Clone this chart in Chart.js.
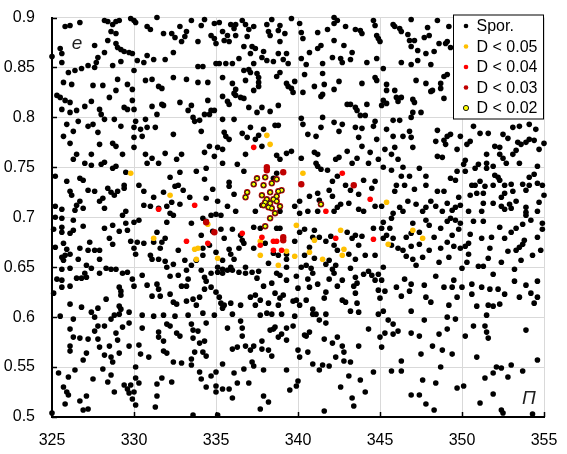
<!DOCTYPE html>
<html>
<head>
<meta charset="utf-8">
<script src="https://cdn.jsdelivr.net/npm/chart.js@4.4.1/dist/chart.umd.min.js"></script>
<style>
  body { margin: 0; background: #fff; }
  canvas { display: block; }
</style>
</head>
<body>
<canvas id="myChart" width="567" height="454"></canvas>
<script>
// tick positions
const xTickValues = [325, 330, 335, 340, 345, 350, 355];
const yTickValues = [0.5, 0.55, 0.6, 0.65, 0.7, 0.75, 0.8, 0.85, 0.9];

// legend labels
const seriesNames = ['Spor.', 'D < 0.05', 'D < 0.04', 'D < 0.03', 'D < 0.02'];

// sporadic meteors, [П, e]
const sporTopLeft = [
  [325.0,0.861],[325.5,0.869],[325.6,0.864],[325.6,0.855],[325.8,0.891],[326.1,0.892],[326.7,0.895],[326.0,0.845],
  [326.4,0.847],[326.8,0.849],[327.2,0.852],[327.6,0.85],[327.7,0.855],[325.7,0.835],[326.2,0.833],[325.3,0.822],
  [325.5,0.82],[325.8,0.817],[326.1,0.815],[325.6,0.808],[326.1,0.805],[326.5,0.807],[326.6,0.796],[325.9,0.793],
  [326.3,0.786],[325.7,0.781],[327.0,0.811],[327.4,0.816],[327.5,0.832],[328.1,0.832],[327.6,0.872],[327.8,0.86],
  [328.2,0.865],[328.4,0.877],[328.6,0.886],[328.2,0.897],[328.4,0.896],[328.7,0.893],[328.9,0.884],[328.9,0.896],
  [329.1,0.897],[328.9,0.874],[329.0,0.87],[329.2,0.868],[329.4,0.866],[329.7,0.865],[329.9,0.864],[328.7,0.852],
  [329.2,0.856],[327.9,0.808],[328.0,0.803],[328.5,0.82],[328.9,0.827],[329.0,0.838],[329.6,0.833],[329.9,0.828],
  [327.2,0.791],[327.5,0.793],[327.8,0.785],[328.2,0.798],[328.8,0.798],[329.2,0.791],[329.4,0.81],[329.6,0.808],
  [329.9,0.817],[330.0,0.808],[330.1,0.796],[330.0,0.79],[330.0,0.78],[330.4,0.788],[330.7,0.798],[330.8,0.79],
  [330.5,0.781],[331.3,0.79],[331.4,0.803],[331.8,0.812],[331.1,0.811],[329.8,0.899],[330.0,0.897],[330.1,0.895],
  [331.4,0.9],[330.8,0.891],[331.0,0.888],[331.8,0.884],[332.3,0.884],[332.5,0.88],[332.4,0.865],[330.2,0.857],
  [330.6,0.855],[330.8,0.862],[331.2,0.858],[331.9,0.858],[330.0,0.847],[330.7,0.837],[331.1,0.838],[331.5,0.831],
  [331.7,0.829],[332.4,0.84],[333.2,0.838],[331.7,0.813],[332.4,0.783]
];

const sporTopMid = [
  [332.8,0.891],[333.2,0.886],[333.1,0.881],[332.9,0.876],[333.5,0.897],[334.1,0.892],[334.3,0.898],[333.9,0.876],
  [334.7,0.882],[334.9,0.879],[335.0,0.874],[334.9,0.894],[335.2,0.895],[335.4,0.886],[335.7,0.882],[335.8,0.876],
  [335.5,0.877],[335.9,0.893],[336.2,0.893],[336.1,0.889],[336.2,0.882],[336.6,0.897],[336.8,0.893],[337.0,0.888],
  [336.9,0.881],[336.7,0.871],[337.2,0.871],[337.1,0.864],[337.4,0.869],[337.3,0.891],[338.1,0.893],[338.4,0.898],
  [338.2,0.886],[338.3,0.882],[338.9,0.892],[338.9,0.876],[338.8,0.887],[339.2,0.884],[339.6,0.899],[337.9,0.866],
  [337.8,0.86],[338.1,0.857],[338.5,0.856],[338.8,0.864],[339.3,0.864],[339.1,0.858],[339.4,0.854],[337.3,0.854],
  [336.4,0.859],[336.0,0.854],[335.6,0.854],[335.2,0.854],[335.0,0.854],[334.2,0.851],[333.9,0.851],[340.1,0.894],
  [340.2,0.885],[340.3,0.879],[341.2,0.885],[341.8,0.888],[342.2,0.894],[342.4,0.897],[342.2,0.9],[342.9,0.891],
  [343.5,0.888],[343.8,0.887],[343.9,0.884],[342.2,0.877],[342.8,0.872],[341.4,0.872],[341.2,0.869],[340.7,0.865],
  [340.2,0.859],[340.5,0.853],[341.5,0.854],[342.1,0.86],[342.6,0.859],[342.7,0.855],[343.2,0.858],[343.3,0.865],
  [344.2,0.855],
  [333.9,0.835],[334.5,0.835],[335.4,0.84],[336.0,0.834],[336.7,0.847],[337.0,0.848],[337.1,0.845],[336.8,0.837],
  [337.5,0.844],[337.6,0.84],[337.6,0.835],[337.6,0.831],[337.3,0.827],[336.2,0.828],[336.1,0.824],[336.2,0.822],
  [336.5,0.82],[336.7,0.819],[335.4,0.821],[335.7,0.816],[335.8,0.813],[337.0,0.81],[337.5,0.805],[337.8,0.81],
  [338.3,0.806],[338.8,0.812],[338.7,0.841],[338.9,0.845],[339.3,0.834],[339.4,0.831],[339.6,0.829],[339.8,0.836],
  [339.7,0.825],[340.4,0.843],[340.3,0.825],[341.0,0.831],[341.5,0.844],[341.6,0.833],[341.5,0.823],[341.4,0.821],
  [342.2,0.828],[342.5,0.836],[343.9,0.834],[343.0,0.813],[343.2,0.813],[343.5,0.81],[343.6,0.807],[343.8,0.802],
  [344.1,0.802],[344.2,0.813],[332.8,0.815],[333.3,0.807],[333.5,0.812],[333.6,0.8],[334.3,0.803],[334.6,0.803],
  [334.7,0.807],[334.9,0.807],[334.5,0.817],[333.7,0.796],[334.0,0.797],[335.4,0.798],[336.1,0.798],[337.1,0.79],
  [337.9,0.788],[338.6,0.792],[338.8,0.792],[340.2,0.799],[340.3,0.793],[341.5,0.8],[342.2,0.795],[341.4,0.79],
  [342.7,0.793],[343.5,0.79],[343.9,0.789]
];

const sporTopRight = [
  [344.6,0.897],[344.7,0.892],[344.8,0.882],[344.9,0.879],[345.0,0.876],[344.8,0.859],[345.2,0.849],[345.8,0.893],
  [345.9,0.891],[346.2,0.889],[346.3,0.886],[346.7,0.883],[346.9,0.898],[346.8,0.877],[347.1,0.877],[346.9,0.871],
  [347.3,0.867],[347.8,0.864],[348.3,0.866],[347.9,0.89],[348.0,0.882],[347.7,0.88],[348.5,0.897],[349.2,0.891],
  [348.6,0.874],[349.0,0.874],[349.1,0.876],[349.3,0.87],[346.9,0.853],[347.3,0.857],[348.1,0.853],[346.3,0.855],
  [344.7,0.84],[344.8,0.837],[345.4,0.827],[345.4,0.833],[345.9,0.827],[346.0,0.82],[346.3,0.82],[345.2,0.817],
  [345.4,0.814],[345.1,0.812],[346.1,0.816],[347.0,0.818],[347.1,0.815],[347.2,0.837],[347.8,0.834],[348.1,0.826],
  [348.2,0.827],[348.7,0.829],[348.7,0.834],[348.9,0.841],[349.1,0.843],[348.9,0.819],[347.0,0.805],[347.5,0.805],
  [346.9,0.8],[346.2,0.797],[345.8,0.797],[344.7,0.796],[344.6,0.791]
];

const sporMidLeft = [
  [326.1,0.774],[327.9,0.773],[328.7,0.774],[328.9,0.771],[330.0,0.77],[329.3,0.763],[327.4,0.763],[326.5,0.763],
  [326.3,0.758],[327.0,0.754],[327.4,0.752],[328.0,0.753],[328.2,0.755],[328.7,0.749],[328.9,0.751],[330.7,0.763],
  [330.8,0.754],[331.1,0.759],[331.5,0.754],[331.9,0.764],[332.6,0.758],[332.9,0.763],[334.3,0.765],[334.4,0.749],
  [333.8,0.746],[332.8,0.745],[332.2,0.74],[329.5,0.745],[330.3,0.732],[329.4,0.732],[329.4,0.729],[330.6,0.726],
  [331.2,0.72],[331.8,0.725],[332.5,0.731],[332.7,0.732],[333.0,0.727],[332.3,0.715],[332.8,0.713],[333.4,0.72],
  [334.3,0.738],[334.4,0.719],[325.2,0.741],[325.9,0.736],[326.1,0.726],[326.2,0.722],[326.7,0.739],[326.9,0.737],
  [327.2,0.727],[327.6,0.726],[327.9,0.716],[328.1,0.719],[328.4,0.729],[328.6,0.725],[328.8,0.722],[329.0,0.726],
  [326.7,0.716],[326.5,0.712],[326.4,0.707],[326.9,0.709],[328.2,0.709],[325.2,0.711],[325.6,0.708],[325.2,0.7],
  [325.6,0.699],[326.3,0.697],[329.5,0.706],[329.3,0.702],[330.3,0.697],[330.6,0.712],[331.0,0.711],[331.5,0.709],
  [332.0,0.711],[332.2,0.704],[332.4,0.702],[332.0,0.695],[333.5,0.694],[334.2,0.699],
  [325.1,0.688],[325.6,0.69],[325.6,0.685],[326.1,0.684],[326.3,0.687],[326.9,0.691],[325.7,0.674],[325.2,0.67],
  [325.9,0.668],[325.8,0.662],[325.6,0.66],[325.7,0.657],[326.1,0.663],[326.7,0.669],[326.6,0.658],[327.3,0.675],
  [327.2,0.667],[327.6,0.667],[327.9,0.667],[327.9,0.658],[327.1,0.652],[328.5,0.679],[328.7,0.692],[328.2,0.689],
  [328.7,0.673],[329.1,0.686],[329.5,0.694],[329.6,0.687],[329.8,0.676],[330.2,0.675],[330.0,0.669],[330.1,0.663],
  [330.6,0.674],[331.0,0.662],[331.1,0.658],[331.5,0.658],[331.6,0.669],[331.9,0.656],[331.4,0.685],[331.2,0.675],
  [331.7,0.675],[331.9,0.679],[332.7,0.667],[332.4,0.653],[332.0,0.65],[333.1,0.657],[333.2,0.647],[333.5,0.652],
  [333.8,0.657],[334.1,0.647],[334.2,0.662],[330.0,0.695],[328.6,0.648],[328.9,0.648],[329.3,0.644],[329.6,0.645],
  [328.3,0.649],[327.9,0.644],[327.4,0.649],[327.0,0.644],[326.1,0.649],[325.6,0.648],
  [325.3,0.638],[325.6,0.637],[325.1,0.624],[325.6,0.63],[326.1,0.631],[326.5,0.639],[326.8,0.639],[327.1,0.64],
  [329.1,0.63],[329.2,0.626],[329.2,0.622],[329.9,0.638],[330.0,0.631],[330.5,0.642],[330.8,0.632],[331.4,0.633],
  [331.5,0.628],[331.1,0.621],[331.6,0.621],[332.2,0.623],[332.4,0.615],[332.6,0.613],[332.2,0.641],[332.7,0.642],
  [332.9,0.631],[333.2,0.631],[333.3,0.638],[333.2,0.616],[333.6,0.618],[334.0,0.62],[334.3,0.628],[334.4,0.636],
  [333.8,0.612],[334.2,0.604],[328.3,0.618],[329.1,0.611],[329.2,0.608],[329.1,0.603],[328.8,0.602],[328.6,0.598],
  [327.8,0.609],[327.6,0.6],[327.4,0.605],[326.8,0.61],[326.1,0.613],[325.5,0.601],[326.3,0.598],[329.7,0.605],
  [330.5,0.602],[331.2,0.601],[331.8,0.602],[332.5,0.601],[333.3,0.602],
  [326.1,0.588],[326.3,0.58],[326.7,0.579],[327.8,0.578],[327.6,0.586],[327.8,0.591],[328.2,0.591],[328.9,0.584],
  [329.3,0.59],[329.7,0.594],[330.5,0.589],[331.5,0.585],[331.5,0.58],[332.0,0.593],[332.2,0.591],[332.6,0.584],
  [332.8,0.581],[333.5,0.593],[333.6,0.587],[333.9,0.586],[334.4,0.594],[334.3,0.576]
];

const sporCentre = [
  [334.1,0.786],[335.5,0.785],[335.6,0.781],[335.8,0.778],[336.6,0.784],[336.9,0.78],[337.4,0.778],[337.6,0.782],
  [337.8,0.771],[338.7,0.762],[338.9,0.758],[339.3,0.764],[339.6,0.766],[340.2,0.759],[340.6,0.783],[341.1,0.781],
  [342.5,0.786],[343.7,0.78],[343.9,0.771],[344.4,0.765],[344.8,0.778],[344.9,0.758],[344.3,0.754],[343.6,0.759],
  [343.3,0.754],[343.0,0.766],[342.5,0.76],[342.3,0.758],[341.0,0.765],[341.2,0.763],[341.1,0.754],[341.2,0.751],
  [341.4,0.748],[341.8,0.747],[334.6,0.771],[335.1,0.77],[335.4,0.768],[336.8,0.763],[336.3,0.753],[336.7,0.746],
  [335.4,0.754],[334.9,0.761],
  [335.8,0.735],[335.8,0.731],[334.8,0.728],[336.1,0.723],[338.5,0.739],[338.7,0.744],[340.1,0.716],[340.7,0.721],
  [341.2,0.724],[341.3,0.717],[341.9,0.727],[342.1,0.721],[342.1,0.736],[342.4,0.741],[342.9,0.732],[343.2,0.727],
  [343.7,0.723],[344.0,0.737],[344.7,0.736],[344.5,0.729],[344.7,0.711],[344.0,0.706],[343.7,0.708],[343.1,0.714],
  [342.6,0.713],[342.4,0.71],[342.2,0.706],[341.2,0.706],[340.6,0.706],[340.1,0.704],[339.8,0.711],[338.9,0.706],
  [337.8,0.712],[337.4,0.706],[336.2,0.706],[335.7,0.711],[335.1,0.716],[334.7,0.702],[335.0,0.703],[335.3,0.702],
  [334.4,0.696],[334.8,0.686],[334.1,0.682],[335.3,0.688],[335.5,0.679],[336.0,0.688],[336.5,0.682],[336.6,0.677],
  [336.7,0.674],[336.4,0.669],[335.8,0.668],[335.9,0.663],[336.1,0.658],[335.4,0.657],[335.0,0.665],[334.6,0.672],
  [334.2,0.669],[337.3,0.69],[337.7,0.689],[338.7,0.689],[338.9,0.689],[337.3,0.669],[338.0,0.674],[338.5,0.664],
  [338.8,0.662],[339.3,0.663],[339.3,0.658],[339.8,0.676],[340.1,0.685],[340.4,0.688],[341.0,0.687],[340.9,0.68],
  [341.3,0.68],[341.7,0.676],[342.0,0.681],[342.2,0.672],[342.4,0.667],[341.0,0.659],[340.4,0.662],[340.7,0.67],
  [343.0,0.685],[343.3,0.679],[343.5,0.682],[343.9,0.681],[343.7,0.672],[344.6,0.689],[345.2,0.695],[344.7,0.662],
  [344.1,0.662],[343.5,0.658],[343.1,0.663],[342.3,0.652],[341.9,0.657]
];

const sporMidRight = [
  [345.4,0.788],[345.8,0.781],[345.9,0.77],[345.3,0.768],[345.7,0.763],[346.1,0.758],[346.4,0.781],[346.8,0.786],
  [346.9,0.78],[347.0,0.77],[346.4,0.75],[347.4,0.749],[345.7,0.747],[345.2,0.75],[348.5,0.787],[348.4,0.776],
  [348.9,0.777],[349.1,0.781],[349.3,0.783],[349.9,0.781],[349.0,0.773],[349.7,0.768],[348.5,0.761],[348.8,0.76],
  [350.1,0.753],[350.2,0.757],[350.3,0.773],[350.5,0.776],[350.7,0.791],[351.1,0.784],[351.6,0.784],[352.0,0.771],
  [352.3,0.77],[352.5,0.783],[352.8,0.779],[353.1,0.79],[353.5,0.791],[354.1,0.793],[354.5,0.788],[353.4,0.775],
  [353.6,0.773],[353.9,0.775],[354.1,0.778],[354.4,0.777],[355.0,0.774],[354.7,0.768],[353.3,0.767],[353.1,0.763],
  [353.5,0.754],[352.3,0.763],[352.5,0.759],[352.7,0.754],[351.5,0.763],[351.0,0.753],[351.5,0.754],[351.5,0.749],
  [350.2,0.746],[349.7,0.746],[350.8,0.749],[351.9,0.751],[354.6,0.751],
  [346.3,0.741],[346.8,0.741],[347.8,0.741],[347.8,0.732],[347.1,0.728],[346.5,0.732],[346.0,0.732],[345.9,0.726],
  [348.5,0.726],[348.9,0.726],[349.3,0.739],[349.6,0.737],[350.6,0.732],[350.8,0.732],[350.5,0.722],[350.9,0.724],
  [351.3,0.724],[351.1,0.736],[351.4,0.731],[351.9,0.732],[352.0,0.742],[352.2,0.74],[352.3,0.737],[352.6,0.732],
  [352.6,0.724],[352.4,0.72],[353.0,0.733],[353.1,0.726],[353.7,0.733],[353.9,0.727],[354.1,0.732],[354.1,0.74],
  [354.4,0.743],[354.6,0.734],[354.9,0.732],[355.0,0.722],[354.7,0.715],[353.3,0.716],[352.9,0.713],[353.0,0.709],
  [353.9,0.71],[353.9,0.705],[354.6,0.706],[352.4,0.711],[352.6,0.708],[351.9,0.714],[351.3,0.714],[351.2,0.706],
  [350.4,0.706],[349.9,0.712],[349.8,0.72],[349.6,0.71],[349.4,0.707],[349.1,0.714],[348.8,0.706],[348.4,0.711],
  [348.1,0.716],[347.8,0.71],[347.6,0.706],[347.2,0.713],[346.7,0.716],[346.2,0.71],[346.4,0.706],[345.8,0.704],
  [345.1,0.711],[347.8,0.697],[348.0,0.692],[347.0,0.694],
  [345.7,0.699],[345.6,0.689],[345.4,0.682],[345.2,0.679],[345.1,0.689],[345.8,0.679],[345.7,0.672],[346.1,0.669],
  [346.4,0.667],[346.6,0.68],[346.9,0.684],[347.4,0.685],[347.4,0.673],[346.9,0.671],[346.6,0.661],[347.0,0.658],
  [347.2,0.652],[347.6,0.66],[348.0,0.667],[348.3,0.68],[348.7,0.689],[349.1,0.696],[349.3,0.699],[349.6,0.697],
  [349.8,0.688],[349.9,0.694],[349.4,0.682],[349.1,0.675],[349.2,0.66],[348.7,0.669],[348.6,0.655],[349.5,0.671],
  [349.9,0.669],[350.2,0.671],[350.4,0.674],[350.5,0.683],[350.4,0.663],[350.3,0.655],[350.0,0.649],[350.7,0.696],
  [351.2,0.679],[351.3,0.696],[351.6,0.659],[351.7,0.669],[351.8,0.68],[352.3,0.69],[352.6,0.679],[353.0,0.685],
  [353.3,0.689],[353.7,0.693],[353.9,0.702],[354.2,0.697],[354.9,0.694],[354.9,0.688],[354.6,0.68],[354.8,0.667],
  [354.3,0.662],[353.8,0.677],[353.7,0.673],[353.5,0.67],[353.3,0.667],[353.6,0.657],[352.8,0.666],[352.4,0.655],
  [351.3,0.651],[351.0,0.651],[351.9,0.643],[353.2,0.648],
  [345.1,0.637],[345.3,0.626],[346.0,0.63],[346.3,0.621],[346.5,0.638],[346.8,0.626],[346.9,0.633],[347.7,0.632],
  [347.8,0.62],[348.1,0.615],[348.4,0.641],[348.9,0.63],[349.4,0.63],[349.5,0.637],[349.2,0.612],[349.7,0.62],
  [350.0,0.63],[350.6,0.633],[350.6,0.623],[351.2,0.63],[351.7,0.628],[352.2,0.628],[352.6,0.623],[350.9,0.611],
  [351.6,0.612],[351.9,0.611],[352.3,0.613],[351.5,0.602],[353.5,0.62],[353.2,0.636],[353.9,0.632],[354.2,0.624],
  [354.6,0.636],[354.6,0.62],[354.4,0.614],[346.9,0.606],[347.7,0.597],
  [345.5,0.597],[345.8,0.593],[346.1,0.586],[345.3,0.584],[346.9,0.584],[347.4,0.581],[348.6,0.583],[349.1,0.6],
  [349.1,0.588],[349.6,0.598],[350.2,0.581],[350.7,0.591],[351.4,0.591],[351.5,0.585],[351.6,0.579],[353.9,0.587]
];

const sporLowLeft = [
  [327.2,0.578],[329.0,0.577],[326.1,0.571],[326.1,0.566],[327.1,0.564],[326.9,0.557],[327.9,0.57],[328.5,0.571],
  [328.2,0.562],[328.6,0.56],[328.7,0.555],[329.1,0.564],[329.7,0.571],[330.3,0.572],[330.4,0.563],[330.9,0.56],
  [331.8,0.576],[331.8,0.566],[332.0,0.564],[332.4,0.555],[332.9,0.554],[333.5,0.558],[333.6,0.579],[333.5,0.552],
  [325.4,0.544],[326.0,0.54],[326.4,0.547],[325.7,0.53],[325.9,0.525],[326.0,0.522],[325.8,0.513],[326.7,0.516],
  [327.1,0.521],[326.9,0.507],[327.2,0.508],[327.5,0.538],[328.1,0.548],[328.6,0.542],[328.4,0.535],[328.8,0.525],
  [329.4,0.532],[329.6,0.528],[329.7,0.524],[329.8,0.532],[330.0,0.525],[329.9,0.518],[330.1,0.512],[330.1,0.55],
  [330.1,0.539],[330.3,0.534],[331.4,0.533],[331.4,0.521],[331.3,0.51],[331.7,0.539],[332.3,0.535],[325.0,0.504],
  [333.6,0.502],[334.0,0.545],[334.1,0.538]
];

const sporLowMid = [
  [334.3,0.64],[334.7,0.644],[335.1,0.65],[335.1,0.645],[335.4,0.644],[335.4,0.648],[335.7,0.647],[335.9,0.65],
  [336.0,0.647],[336.4,0.645],[336.8,0.644],[336.8,0.65],[337.2,0.645],[337.6,0.646],[337.5,0.639],[338.2,0.654],
  [339.3,0.65],[338.9,0.642],[338.7,0.644],[339.3,0.637],[339.9,0.641],[340.2,0.65],[340.5,0.652],[340.8,0.649],
  [340.9,0.644],[340.6,0.638],[341.2,0.633],[341.7,0.653],[342.1,0.648],[342.2,0.644],[341.9,0.638],[342.7,0.637],
  [343.2,0.649],[343.5,0.64],[344.0,0.643],[344.3,0.646],[344.5,0.642],[344.7,0.637],[344.9,0.643],[345.2,0.65],
  [343.6,0.634],[343.4,0.631],[343.5,0.624],[342.4,0.631],[341.7,0.625],[341.6,0.619],[340.7,0.63],[340.5,0.617],
  [340.9,0.608],[340.9,0.603],[341.1,0.603],[341.3,0.597],[341.7,0.603],[341.7,0.594],[342.7,0.617],[342.9,0.615],
  [343.2,0.606],[343.6,0.614],[343.7,0.605],[344.9,0.603],[345.2,0.606],[345.0,0.619],[344.9,0.627],[340.0,0.629],
  [339.9,0.617],[340.1,0.612],[339.7,0.616],[339.8,0.601],[339.1,0.622],[338.9,0.619],[338.6,0.624],[338.4,0.634],
  [337.9,0.631],[337.4,0.622],[337.1,0.62],[337.7,0.617],[338.2,0.614],[338.8,0.612],[339.0,0.603],[338.4,0.603],
  [338.1,0.604],[337.4,0.612],[336.5,0.612],[335.9,0.614],[336.0,0.603],[335.5,0.612],[335.4,0.609],[335.3,0.614],
  [335.2,0.62],[335.0,0.625],[334.7,0.63],[334.9,0.602],[337.7,0.602],
  [334.0,0.574],[335.7,0.589],[336.5,0.596],[336.6,0.589],[336.6,0.581],[336.3,0.57],[336.0,0.568],[336.8,0.571],
  [337.1,0.567],[337.3,0.571],[337.8,0.576],[337.8,0.568],[338.2,0.567],[338.4,0.561],[338.3,0.587],[338.5,0.588],
  [338.6,0.59],[338.8,0.58],[339.0,0.583],[339.3,0.577],[339.3,0.589],[339.7,0.591],[340.0,0.567],[340.1,0.56],
  [340.4,0.582],[340.5,0.581],[340.7,0.585],[340.6,0.565],[341.6,0.578],[342.4,0.58],[342.1,0.574],[342.7,0.571],
  [342.8,0.565],[342.3,0.56],[342.8,0.556],[343.2,0.555],[343.7,0.571],[344.3,0.588],[333.7,0.565],[334.2,0.565],
  [334.4,0.561],
  [334.7,0.541],[335.0,0.545],[334.4,0.53],[335.0,0.531],[335.0,0.525],[335.4,0.528],[335.8,0.528],[335.4,0.553],
  [336.1,0.544],[336.0,0.519],[336.3,0.534],[336.7,0.548],[337.0,0.534],[337.2,0.555],[337.3,0.551],[337.9,0.547],
  [337.9,0.521],[338.2,0.515],[337.7,0.508],[339.3,0.547],[339.5,0.527],[339.9,0.531],[340.0,0.536],[340.9,0.553],
  [341.3,0.547],[341.5,0.552],[341.9,0.551],[341.6,0.506],[343.1,0.541],[342.6,0.53],[343.8,0.537],[344.1,0.525],
  [343.3,0.519],[343.4,0.511],[344.6,0.545],[335.1,0.502]
];

const sporLowRight = [
  [345.0,0.58],[345.1,0.57],[345.8,0.583],[348.2,0.571],[348.8,0.567],[349.4,0.563],[347.5,0.563],[346.3,0.556],
  [345.7,0.546],[346.3,0.546],[348.7,0.55],[347.6,0.537],[348.4,0.534],[349.7,0.529],[350.1,0.531],[346.9,0.522],
  [347.4,0.522],[347.8,0.513],[348.3,0.507],[350.9,0.56],[352.1,0.55],[352.4,0.549],[351.9,0.544],[351.4,0.539],
  [353.0,0.552],[352.8,0.54],[353.7,0.546],[354.6,0.557],[351.9,0.523],[351.1,0.514],[352.4,0.507],[352.5,0.504],
  [354.3,0.503]
];

const spor = [].concat(sporTopLeft, sporTopMid, sporTopRight, sporMidLeft, sporCentre,
  sporMidRight, sporLowLeft, sporLowMid, sporLowRight);

// shower candidates by distance criterion
const dBelow005 = [
  [338.1,0.782],[338.3,0.773],[340.3,0.744],[345.4,0.715],[339.9,0.692],[342.6,0.687],[341.0,0.677],[337.7,0.676],
  [335.1,0.659],[340.7,0.665],[341.5,0.658],[342.7,0.662],[342.8,0.668],[337.7,0.662],[339.3,0.666],[339.8,0.661],
  [338.8,0.652],[329.8,0.744],[332.2,0.722],[331.2,0.679],[333.7,0.668],[333.9,0.669],[333.8,0.658],[334.5,0.693],
  [347.0,0.687],[347.6,0.679],[345.5,0.673]
];
const dBelow004 = [
  [337.3,0.77],[342.7,0.744],[344.4,0.718],[341.7,0.706],[342.3,0.679],[344.6,0.678],[336.6,0.684],[337.8,0.68],
  [338.5,0.676],[338.7,0.676],[337.7,0.672],[338.5,0.667],[339.0,0.667],[334.5,0.674],[331.5,0.708],[333.7,0.712],
  [333.2,0.676]
];
const dBelow003 = [
  [338.1,0.75],[338.1,0.747],[339.1,0.745],[340.2,0.733],[343.4,0.732],[334.9,0.685],[339.1,0.68],[339.1,0.677],
  [334.4,0.695]
];
const dBelow002 = [
  [337.5,0.739],[338.0,0.74],[338.7,0.738],[338.4,0.734],[337.3,0.733],[337.9,0.732],[339.0,0.727],[338.8,0.726],
  [336.9,0.725],[336.8,0.72],[337.8,0.722],[338.3,0.725],[338.1,0.718],[338.5,0.718],[338.7,0.721],[338.0,0.715],
  [338.3,0.714],[338.7,0.716],[337.9,0.712],[338.2,0.71],[338.4,0.709],[338.9,0.711],[338.6,0.704],[338.3,0.699],
  [338.0,0.691],[341.4,0.713]
];

const markerStyles = [
  { fill: '#000000', stroke: '#000000', r: 2.8, bw: 0 },
  { fill: '#FFC000', stroke: '#FFC000', r: 2.8, bw: 0 },
  { fill: '#FF0000', stroke: '#FF0000', r: 2.8, bw: 0 },
  { fill: '#C00000', stroke: '#C00000', r: 3.2, bw: 0 },
  { fill: '#FFFF00', stroke: '#1a1a1a', r: 2.1, bw: 1 }
];

// every D < 0.02 meteor is also inside D < 0.03, which gives the red rims
const seriesData = [spor, dBelow005, dBelow004, dBelow003.concat(dBelow002), dBelow002];

// ticks inside the axes, the italic axis letters and the boxed legend
const overlay = {
  id: 'overlay',
  afterDraw(chart) {
    const { ctx, chartArea: a, scales } = chart;
    ctx.save();
    ctx.strokeStyle = '#000';
    ctx.lineWidth = 1.5;
    ctx.beginPath();
    xTickValues.forEach(v => {
      const px = Math.round(scales.x.getPixelForValue(v)) + 0.5;
      ctx.moveTo(px, a.bottom);
      ctx.lineTo(px, a.bottom - 5);
    });
    yTickValues.forEach(v => {
      const py = Math.round(scales.y.getPixelForValue(v)) + 0.5;
      ctx.moveTo(a.left, py);
      ctx.lineTo(a.left + 5, py);
    });
    ctx.stroke();

    ctx.fillStyle = '#1f1f1f';
    ctx.font = 'italic 19px "Liberation Sans"';
    ctx.textBaseline = 'middle';
    ctx.textAlign = 'center';
    ctx.fillText('e', a.left + 25, a.top + 26);
    ctx.fillText('П', a.right - 15, a.bottom - 18);

    // legend box
    const bx = a.right - 91, by = a.top - 3, bw = 91, bh = 105;
    ctx.fillStyle = '#fff';
    ctx.fillRect(bx, by, bw, bh);
    ctx.strokeStyle = '#000';
    ctx.lineWidth = 1;
    ctx.strokeRect(bx + 0.5, by + 0.5, bw - 1, bh - 1);
    ctx.font = '16px "Liberation Sans"';
    ctx.textAlign = 'left';
    seriesNames.forEach((name, i) => {
      const cy = by + 11.5 + i * 20.5;
      const s = markerStyles[i];
      ctx.beginPath();
      ctx.arc(bx + 13, cy, s.bw ? 2.6 : 2.3, 0, Math.PI * 2);
      ctx.fillStyle = s.fill;
      ctx.fill();
      if (s.bw) { ctx.strokeStyle = s.stroke; ctx.lineWidth = 1; ctx.stroke(); }
      ctx.fillStyle = '#000';
      ctx.fillText(name, bx + 23.5, cy + 1);
    });
    ctx.restore();
  }
};

new Chart(
  document.getElementById('myChart'),
  {
    type: 'scatter',
    data: {
      datasets: seriesNames.map((name, i) => ({
        label: name,
        data: seriesData[i],
        backgroundColor: markerStyles[i].fill,
        borderColor: markerStyles[i].stroke,
        borderWidth: markerStyles[i].bw,
        pointRadius: markerStyles[i].r,
        pointHoverRadius: markerStyles[i].r,
        order: seriesNames.length - i,
        clip: false
      }))
    },
    options: {
      responsive: false,
      animation: false,
      devicePixelRatio: 1,
      events: [],
      layout: { padding: { left: 0, right: 23, top: 17.5, bottom: 0 } },
      plugins: {
        legend: { display: false },
        tooltip: { enabled: false }
      },
      scales: {
        x: {
          type: 'linear',
          min: 325,
          max: 355,
          afterBuildTicks: s => { s.ticks = xTickValues.map(v => ({ value: v })); },
          afterFit: s => { s.height = 37; s.paddingLeft = 0; s.paddingRight = 0; },
          grid: { color: '#d9d9d9', lineWidth: 1, drawTicks: false },
          border: { color: '#000', width: 2 },
          ticks: {
            padding: 14,
            color: '#000',
            font: { family: 'Liberation Sans', size: 16 },
            maxRotation: 0
          }
        },
        y: {
          type: 'linear',
          min: 0.5,
          max: 0.9,
          afterBuildTicks: s => { s.ticks = yTickValues.map(v => ({ value: v })); },
          afterFit: s => { s.width = 52; s.paddingTop = 0; s.paddingBottom = 0; },
          grid: { color: '#d9d9d9', lineWidth: 1, drawTicks: false },
          border: { color: '#000', width: 2 },
          ticks: {
            padding: 17,
            color: '#000',
            font: { family: 'Liberation Sans', size: 16 },
            callback: v => String(Number(v.toFixed(2)))
          }
        }
      }
    },
    plugins: [overlay]
  }
);
</script>
</body>
</html>
